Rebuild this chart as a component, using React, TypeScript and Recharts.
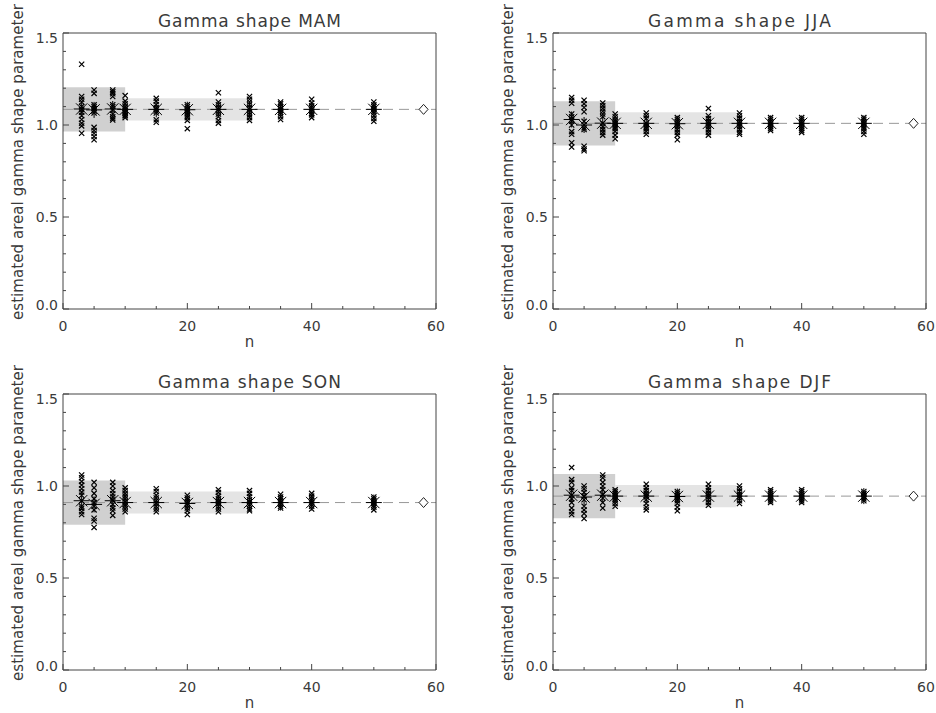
import React from 'react';
import { ComposedChart, Scatter, XAxis, YAxis, ReferenceArea, ReferenceLine } from 'recharts';

// ---------- data ----------
const nValues = [3, 5, 8, 10, 15, 20, 25, 30, 35, 40, 50];
const diamondN = 58;
const xTicks = [0, 5, 10, 15, 20, 25, 30, 35, 40, 45, 50, 55, 60];
const yTicks = [0, 0.1, 0.2, 0.3, 0.4, 0.5, 0.6, 0.7, 0.8, 0.9, 1.0, 1.1, 1.2, 1.3, 1.4, 1.5];
const darkBoxN = [0, 10];
const lightBoxN = [10, 29.5];

const mamSamples = [
  [1.33, 1.155, 1.14, 1.125, 1.1, 1.085, 1.07, 1.05, 1.03, 1.01, 0.995, 0.955],
  [1.19, 1.172, 1.11, 1.1, 1.09, 1.075, 1.065, 0.987, 0.97, 0.955, 0.937, 0.92],
  [1.19, 1.18, 1.17, 1.155, 1.11, 1.1, 1.08, 1.06, 1.045, 1.035, 1.027],
  [1.16, 1.13, 1.115, 1.1, 1.09, 1.08, 1.07, 1.065, 1.055, 1.05, 1.04],
  [1.145, 1.13, 1.11, 1.095, 1.085, 1.075, 1.065, 1.028, 1.015],
  [1.11, 1.1, 1.09, 1.08, 1.07, 1.06, 1.05, 1.04, 1.025, 0.98],
  [1.175, 1.125, 1.11, 1.095, 1.085, 1.075, 1.06, 1.045, 1.025, 1.01],
  [1.155, 1.14, 1.125, 1.11, 1.095, 1.085, 1.07, 1.055, 1.04, 1.025],
  [1.125, 1.115, 1.1, 1.09, 1.08, 1.07, 1.06, 1.045, 1.03],
  [1.14, 1.12, 1.105, 1.095, 1.085, 1.075, 1.065, 1.055, 1.04],
  [1.125, 1.11, 1.1, 1.09, 1.085, 1.075, 1.065, 1.05, 1.035, 1.02],
];
const mamMeans = [1.087, 1.082, 1.087, 1.085, 1.085, 1.083, 1.085, 1.085, 1.085, 1.085, 1.085];
const mamTruth = 1.085;
const mamDark = [0.965, 1.205];
const mamLight = [1.025, 1.145];

const jjaSamples = [
  [1.15, 1.135, 1.118, 1.06, 1.045, 1.03, 1.02, 1.0, 0.964, 0.95, 0.904, 0.88],
  [1.135, 1.115, 1.095, 1.072, 1.02, 1.0, 0.985, 0.975, 0.885, 0.87, 0.86],
  [1.12, 1.105, 1.09, 1.075, 1.06, 1.045, 1.01, 0.99, 0.975, 0.96, 0.945],
  [1.06, 1.045, 1.03, 1.02, 1.01, 1.0, 0.99, 0.98, 0.965, 0.945, 0.925],
  [1.065, 1.05, 1.035, 1.01, 1.0, 0.99, 0.98, 0.965, 0.95],
  [1.04, 1.03, 1.02, 1.01, 1.0, 0.99, 0.975, 0.96, 0.945, 0.92],
  [1.09, 1.05, 1.035, 1.02, 1.01, 1.0, 0.99, 0.975, 0.96, 0.945],
  [1.065, 1.05, 1.035, 1.02, 1.01, 1.0, 0.99, 0.975, 0.96, 0.95],
  [1.04, 1.03, 1.02, 1.01, 1.0, 0.99, 0.98, 0.97],
  [1.04, 1.03, 1.02, 1.01, 1.0, 0.99, 0.98, 0.97, 0.96],
  [1.04, 1.03, 1.02, 1.01, 1.0, 0.99, 0.98, 0.965, 0.95],
];
const jjaMeans = [1.03, 1.0, 1.01, 1.009, 1.009, 1.007, 1.009, 1.009, 1.009, 1.009, 1.009];
const jjaTruth = 1.009;
const jjaDark = [0.889, 1.129];
const jjaLight = [0.949, 1.069];

const sonSamples = [
  [1.06, 1.045, 1.025, 1.005, 0.985, 0.967, 0.95, 0.92, 0.89, 0.879, 0.86, 0.845],
  [1.02, 0.99, 0.96, 0.93, 0.91, 0.89, 0.87, 0.825, 0.81, 0.775],
  [1.02, 1.0, 0.975, 0.958, 0.94, 0.925, 0.9, 0.88, 0.865, 0.84],
  [0.99, 0.975, 0.96, 0.945, 0.93, 0.915, 0.9, 0.89, 0.875, 0.86],
  [0.985, 0.97, 0.95, 0.935, 0.92, 0.905, 0.89, 0.875, 0.86],
  [0.95, 0.935, 0.925, 0.915, 0.905, 0.895, 0.88, 0.865, 0.845],
  [0.98, 0.965, 0.945, 0.93, 0.915, 0.905, 0.89, 0.875, 0.86],
  [0.975, 0.96, 0.94, 0.925, 0.915, 0.9, 0.89, 0.875, 0.865],
  [0.955, 0.94, 0.93, 0.92, 0.91, 0.9, 0.89, 0.88],
  [0.96, 0.945, 0.93, 0.92, 0.91, 0.9, 0.89, 0.875],
  [0.94, 0.93, 0.92, 0.91, 0.905, 0.895, 0.885, 0.87],
];
const sonMeans = [0.92, 0.9, 0.92, 0.91, 0.91, 0.905, 0.91, 0.91, 0.91, 0.91, 0.91];
const sonTruth = 0.91;
const sonDark = [0.79, 1.03];
const sonLight = [0.85, 0.97];

const djfSamples = [
  [1.1, 1.035, 1.02, 0.99, 0.975, 0.95, 0.93, 0.91, 0.88, 0.86, 0.845],
  [1.0, 0.985, 0.965, 0.945, 0.925, 0.89, 0.87, 0.85, 0.823],
  [1.06, 1.045, 1.02, 1.0, 0.98, 0.955, 0.935, 0.91, 0.88],
  [0.98, 0.97, 0.96, 0.95, 0.94, 0.93, 0.92, 0.905, 0.89],
  [1.01, 0.99, 0.975, 0.96, 0.95, 0.94, 0.925, 0.905, 0.885, 0.87],
  [0.97, 0.96, 0.95, 0.94, 0.93, 0.92, 0.905, 0.885, 0.865],
  [1.01, 0.99, 0.975, 0.96, 0.95, 0.94, 0.925, 0.91, 0.895],
  [1.0, 0.985, 0.97, 0.955, 0.945, 0.935, 0.92, 0.905],
  [0.98, 0.97, 0.96, 0.95, 0.94, 0.93, 0.92, 0.91],
  [0.98, 0.97, 0.96, 0.95, 0.94, 0.93, 0.92, 0.91],
  [0.97, 0.96, 0.955, 0.945, 0.94, 0.93, 0.92],
];
const djfMeans = [0.95, 0.94, 0.95, 0.945, 0.945, 0.943, 0.945, 0.945, 0.945, 0.945, 0.945];
const djfTruth = 0.945;
const djfDark = [0.825, 1.065];
const djfLight = [0.885, 1.005];

const titles = ['Gamma shape MAM', 'Gamma shape JJA', 'Gamma shape SON', 'Gamma shape DJF'];
const yLabel = 'estimated areal gamma shape parameter';
const xLabel = 'n';

// ---------- style ----------
const FONT = "'DejaVu Sans', sans-serif";
const AXIS = '#444';
const TEXT = '#3a3a3a';
const W = 446;
const H = 352;
// plot area: x 63..436, y 33..309 inside each panel
const MARGIN = { top: 32, right: 9, bottom: 13, left: 23 };
const PLOT = { l: 63, r: 436, t: 33, b: 309 };

const isMajorX = (v: number) => Math.abs(v % 20) < 1e-9;
const isMajorY = (v: number) => Math.abs(v * 2 - Math.round(v * 2)) < 1e-9;

function TickBottom(props: any) {
  const { x, payload } = props;
  const y = PLOT.b;
  const v = payload.value;
  const major = isMajorX(v);
  return (
    <g>
      <line x1={x} y1={y} x2={x} y2={y - (major ? 6 : 3)} stroke={AXIS} strokeWidth={1} />
      {major && (
        <text x={x} y={y + 22} textAnchor="middle" fontSize={14} fill={TEXT} fontFamily={FONT}>
          {v}
        </text>
      )}
    </g>
  );
}
function TickTop(props: any) {
  const { x, payload } = props;
  const y = PLOT.t;
  const major = isMajorX(payload.value);
  return <line x1={x} y1={y} x2={x} y2={y + (major ? 6 : 3)} stroke={AXIS} strokeWidth={1} />;
}
function TickLeft(props: any) {
  const { y, payload } = props;
  const x = PLOT.l;
  const v = payload.value;
  const major = isMajorY(v);
  const shift = v > 1.49 ? 5 : v < 0.01 ? -4.5 : 0;
  return (
    <g>
      <line x1={x} y1={y} x2={x + (major ? 6 : 3)} y2={y} stroke={AXIS} strokeWidth={1} />
      {major && (
        <text x={x - 5} y={y + 5 + shift} textAnchor="end" fontSize={14} fill={TEXT} fontFamily={FONT}>
          {v.toFixed(1)}
        </text>
      )}
    </g>
  );
}
function TickRight(props: any) {
  const { y, payload } = props;
  const x = PLOT.r;
  const major = isMajorY(payload.value);
  return <line x1={x} y1={y} x2={x - (major ? 6 : 3)} y2={y} stroke={AXIS} strokeWidth={1} />;
}

function Cross(props: any) {
  const { cx, cy } = props;
  const s = 2.6;
  return (
    <path
      d={`M${cx - s},${cy - s}L${cx + s},${cy + s}M${cx - s},${cy + s}L${cx + s},${cy - s}`}
      stroke="#000"
      strokeWidth={1.2}
      fill="none"
    />
  );
}
function Asterisk(props: any) {
  const { cx, cy } = props;
  const r = 8;
  const d = r * 0.7071;
  return (
    <path
      d={`M${cx - r},${cy}L${cx + r},${cy}M${cx},${cy - r}L${cx},${cy + r}M${cx - d},${cy - d}L${cx + d},${cy + d}M${cx - d},${cy + d}L${cx + d},${cy - d}`}
      stroke="#000"
      strokeWidth={1}
      fill="none"
    />
  );
}
function Diamond(props: any) {
  const { cx, cy } = props;
  return (
    <path
      d={`M${cx},${cy - 5}L${cx + 4.5},${cy}L${cx},${cy + 5}L${cx - 4.5},${cy}Z`}
      stroke="#222"
      strokeWidth={1}
      fill="#fff"
    />
  );
}

type PanelProps = {
  left: number;
  top: number;
  title: string;
  samples: number[][];
  means: number[];
  truth: number;
  dark: number[];
  light: number[];
};

function Panel({ left, top, title, samples, means, truth, dark, light }: PanelProps) {
  const points = nValues.flatMap((n, i) => samples[i].map((v) => ({ n, v })));
  const meanPts = nValues.map((n, i) => ({ n, v: means[i] }));
  const diamond = [{ n: diamondN, v: truth }];
  const cx = (PLOT.l + PLOT.r) / 2;
  return (
    <div style={{ position: 'absolute', left, top, width: W, height: H }}>
      <ComposedChart width={W} height={H} margin={MARGIN}>
        <XAxis
          xAxisId={0}
          type="number"
          dataKey="n"
          domain={[0, 60]}
          ticks={xTicks}
          interval={0}
          height={30}
          tickSize={0}
          tickMargin={0}
          tick={<TickBottom />}
          tickLine={false}
          axisLine={{ stroke: AXIS }}
          allowDataOverflow
        />
        <XAxis
          xAxisId="top"
          orientation="top"
          type="number"
          domain={[0, 60]}
          ticks={xTicks}
          interval={0}
          height={1}
          tickSize={0}
          tickMargin={0}
          tick={<TickTop />}
          tickLine={false}
          axisLine={{ stroke: AXIS }}
        />
        <YAxis
          yAxisId={0}
          type="number"
          dataKey="v"
          domain={[0, 1.5]}
          ticks={yTicks}
          interval={0}
          width={40}
          tickSize={0}
          tickMargin={0}
          tick={<TickLeft />}
          tickLine={false}
          axisLine={{ stroke: AXIS }}
          allowDataOverflow
        />
        <YAxis
          yAxisId="right"
          orientation="right"
          type="number"
          domain={[0, 1.5]}
          ticks={yTicks}
          interval={0}
          width={1}
          tickSize={0}
          tickMargin={0}
          tick={<TickRight />}
          tickLine={false}
          axisLine={{ stroke: AXIS }}
        />
        <ReferenceArea x1={darkBoxN[0]} x2={darkBoxN[1]} y1={dark[0]} y2={dark[1]} fill="#d0d0d0" fillOpacity={1} stroke="none" />
        <ReferenceArea x1={lightBoxN[0]} x2={lightBoxN[1]} y1={light[0]} y2={light[1]} fill="#e4e4e4" fillOpacity={1} stroke="none" />
        <ReferenceLine y={truth} stroke="#999" strokeWidth={1} strokeDasharray="10 6" />
        <Scatter data={points} dataKey="v" shape={<Cross />} isAnimationActive={false} />
        <Scatter data={meanPts} dataKey="v" shape={<Asterisk />} isAnimationActive={false} />
        <Scatter data={diamond} dataKey="v" shape={<Diamond />} isAnimationActive={false} />
      </ComposedChart>
      <svg
        width={W}
        height={H}
        style={{ position: 'absolute', left: 0, top: 0, pointerEvents: 'none', overflow: 'visible' }}
      >
        <text x={cx} y={PLOT.t - 6} textAnchor="middle" fontSize={17} fill={TEXT} fontFamily={FONT} textLength={183} lengthAdjust="spacing">
          {title}
        </text>
        <text x={cx} y={PLOT.b + 38} textAnchor="middle" fontSize={15} fill={TEXT} fontFamily={FONT}>
          {xLabel}
        </text>
        <text
          x={0}
          y={0}
          transform="translate(22.5, 162) rotate(-90)"
          textAnchor="middle"
          fontSize={15}
          fill={TEXT}
          fontFamily={FONT}
          textLength={316}
          lengthAdjust="spacing"
        >
          {yLabel}
        </text>
      </svg>
    </div>
  );
}

export default function App() {
  return (
    <div
      style={{
        position: 'absolute',
        left: 0,
        top: 0,
        width: 936,
        height: 713,
        overflow: 'hidden',
        background: '#fff',
      }}
    >
      <Panel left={0} top={0} title={titles[0]} samples={mamSamples} means={mamMeans} truth={mamTruth} dark={mamDark} light={mamLight} />
      <Panel left={490} top={0} title={titles[1]} samples={jjaSamples} means={jjaMeans} truth={jjaTruth} dark={jjaDark} light={jjaLight} />
      <Panel left={0} top={361} title={titles[2]} samples={sonSamples} means={sonMeans} truth={sonTruth} dark={sonDark} light={sonLight} />
      <Panel left={490} top={361} title={titles[3]} samples={djfSamples} means={djfMeans} truth={djfTruth} dark={djfDark} light={djfLight} />
    </div>
  );
}
